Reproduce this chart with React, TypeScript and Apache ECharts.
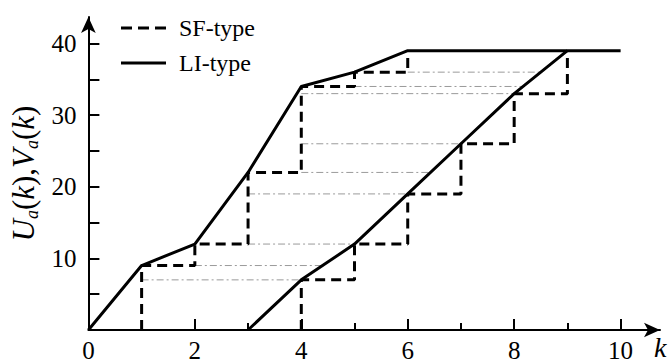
import React, { useEffect, useRef } from 'react';
import * as echarts from 'echarts';

// LI-type curves (solid)
const liUK = [0, 1, 2, 3, 4, 5, 6, 10];
const liU = [0, 9, 12, 22, 34, 36, 39, 39];
const liVK = [3, 4, 5, 6, 7, 8, 9];
const liV = [0, 7, 12, 19, 26, 33, 39];
// SF-type staircases (dashed): step corners
const sfUK = [1, 2, 3, 4, 5, 6];
const sfU = [9, 12, 22, 34, 36, 39];
const sfVK = [4, 5, 6, 7, 8, 9];
const sfV = [7, 12, 19, 26, 33, 39];
// gray dash-dot guides
const guideY = [7, 9, 12, 19, 22, 26, 33, 34, 36];
const guideFrom = [1, 2, 3, 3, 4, 4, 4, 5, 6];
const guideTo = [4, 4.4, 5, 6, 6.43, 7, 8, 8.17, 8.5];
// ticks and labels
const xMajorTicks = [2, 4, 6, 8, 10];
const xMinorTicks = [1, 3, 5, 7, 9];
const xLabels = [0, 2, 4, 6, 8, 10];
const yTicks = [5, 10, 15, 20, 25, 30, 35, 40];
const yLabels = [10, 20, 30, 40];
const legendNames = ['SF-type', 'LI-type'];

const FONT = "'Liberation Serif', 'DejaVu Serif', serif";

function stairs(k: number[], v: number[]) {
  const pts: number[][] = [[k[0], 0]];
  for (let i = 0; i < k.length; i++) {
    pts.push([k[i], v[i]]);
    if (i + 1 < k.length) pts.push([k[i + 1], v[i]]);
  }
  return pts;
}

export default function App() {
  const ref = useRef<HTMLDivElement>(null);
  useEffect(() => {
    if (!ref.current) return;
    const chart = echarts.init(ref.current, undefined, { renderer: 'svg' });
    const guides = guideY.map((y, i) => ({
      type: 'line',
      name: 'guide' + i,
      data: [[guideFrom[i], y], [guideTo[i], y]],
      symbol: 'none',
      silent: true,
      lineStyle: { color: '#9a9a9a', width: 1, type: [7, 3, 2, 3] },
    }));
    const dashStyle = { color: '#000', width: 3, type: [10, 6] };
    const solidStyle = { color: '#000', width: 3, type: 'solid' };
    chart.setOption({
      animation: false,
      backgroundColor: '#fff',
      grid: { left: 86, top: 17, height: 313, width: 574 },
      xAxis: [
        {
          type: 'value', min: 0, max: 10.74, position: 'bottom',
          axisLine: { show: true, onZero: false, symbol: ['none', 'arrow'], symbolSize: [11, 16], lineStyle: { color: '#000', width: 2 } },
          axisTick: { show: true, inside: true, length: 11, customValues: xMajorTicks, lineStyle: { color: '#000', width: 2 } },
          axisLabel: { customValues: xLabels, margin: 8, fontFamily: FONT, fontSize: 25, color: '#000' },
          splitLine: { show: false },
        },
        {
          type: 'value', min: 0, max: 10.74, position: 'bottom',
          axisLine: { show: false },
          axisTick: { show: true, inside: true, length: 7, customValues: xMinorTicks, lineStyle: { color: '#000', width: 2 } },
          axisLabel: { show: false },
          splitLine: { show: false },
        },
      ],
      yAxis: {
        type: 'value', min: 0, max: 43.7,
        axisLine: { show: true, onZero: false, symbol: ['none', 'arrow'], symbolSize: [11, 16], lineStyle: { color: '#000', width: 2 } },
        axisTick: { show: true, inside: true, length: 11, customValues: yTicks, lineStyle: { color: '#000', width: 2 } },
        axisLabel: { customValues: yLabels, margin: 12, fontFamily: FONT, fontSize: 25, color: '#000' },
        splitLine: { show: false },
        name: '{i|U}{s|a}{p|(}{i|k}{p|),}{i|V}{s|a}{p|(}{i|k}{p|)}',
        nameLocation: 'middle',
        nameGap: 46,
        nameRotate: 90,
        nameTextStyle: {
          rich: {
            i: { fontFamily: FONT, fontStyle: 'italic', fontSize: 31, color: '#000', lineHeight: 34 },
            p: { fontFamily: FONT, fontSize: 31, color: '#000', lineHeight: 34 },
            s: { fontFamily: FONT, fontStyle: 'italic', fontSize: 18, color: '#000', verticalAlign: 'bottom', lineHeight: 34, padding: [12, 0, 0, 0] },
          },
        },
      },
      graphic: [
        {
          type: 'line', shape: { x1: 121, y1: 28, x2: 166, y2: 28 },
          style: { stroke: '#000', lineWidth: 3, lineDash: [11, 6] },
        },
        {
          type: 'text', x: 179, y: 28,
          style: { text: legendNames[0], font: `24px ${FONT}`, fill: '#000', verticalAlign: 'middle' },
        },
        {
          type: 'line', shape: { x1: 121, y1: 63, x2: 166, y2: 63 },
          style: { stroke: '#000', lineWidth: 3 },
        },
        {
          type: 'text', x: 179, y: 63,
          style: { text: legendNames[1], font: `24px ${FONT}`, fill: '#000', verticalAlign: 'middle' },
        },
        {
          type: 'text', left: 654, top: 333,
          style: { text: 'k', font: `italic 28px ${FONT}`, fill: '#000' },
        },
      ],
      series: [
        ...guides,
        { type: 'line', name: 'SF-type', data: stairs(sfUK, sfU), symbol: 'none', lineStyle: dashStyle },
        { type: 'line', name: 'SF-type', data: stairs(sfVK, sfV), symbol: 'none', lineStyle: dashStyle },
        { type: 'line', name: 'LI-type', data: liUK.map((k, i) => [k, liU[i]]), symbol: 'none', lineStyle: solidStyle },
        { type: 'line', name: 'LI-type', data: liVK.map((k, i) => [k, liV[i]]), symbol: 'none', lineStyle: solidStyle },
      ],
    });
    return () => chart.dispose();
  }, []);
  return <div ref={ref} style={{ position: 'fixed', left: 0, top: 0, width: 670, height: 364, background: '#fff' }} />;
}
